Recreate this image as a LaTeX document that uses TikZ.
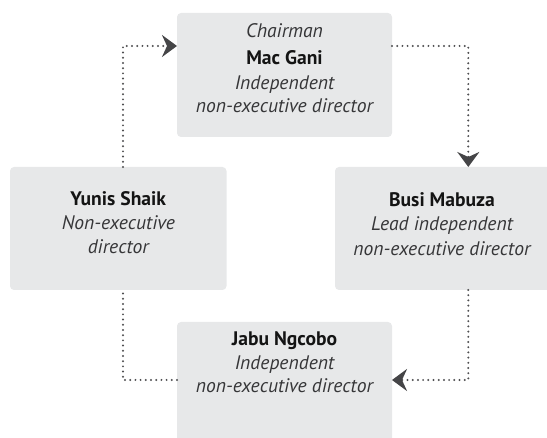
\documentclass[tikz,border=0pt]{standalone}
\usepackage{fontspec}
\setmainfont{PT Sans}
\usetikzlibrary{arrows.meta}
\definecolor{boxgray}{HTML}{E7E8E9}
\definecolor{linegray}{HTML}{4E4E50}
\definecolor{tipgray}{HTML}{454547}
\definecolor{namecol}{HTML}{141414}
\definecolor{rolecol}{HTML}{363638}
\tikzset{
  board/.style={fill=boxgray, draw=none, rounded corners=4pt},
  nm/.style={font=\fontsize{19.6}{22}\selectfont\bfseries, text=namecol, anchor=base, inner sep=0pt},
  rl/.style={font=\fontsize{19.6}{22}\selectfont\itshape, text=rolecol, anchor=base, inner sep=0pt},
  flow/.style={draw=linegray, line width=2.2pt, line cap=round, dash pattern=on 0pt off 5.2pt},
  tipped/.style={flow, -{Stealth[length=15pt, width=22pt, inset=5pt, color=tipgray]}}
}
\begin{document}
\begin{tikzpicture}[x=1pt, y=-1pt]
\useasboundingbox (0,0) rectangle (547,438);
% boxes
\path[board] (177,13) rectangle (392,137) node[midway, inner sep=0pt] (mac) {};
\path[board] (10,167) rectangle (226.5,290) node[midway, inner sep=0pt] (yunis) {};
\path[board] (335,167) rectangle (560,290) node[midway, inner sep=0pt] (busi) {};
\path[board] (177,322) rectangle (392,450) node[midway, inner sep=0pt] (jabu) {};
% anchor coordinates on box edges
\coordinate (macW) at (177,46);
\coordinate (macE) at (392,46);
\coordinate (yunisN) at (123,167);
\coordinate (yunisS) at (123,290);
\coordinate (busiN) at (468.3,167);
\coordinate (busiS) at (468.3,290);
\coordinate (jabuW) at (177,380);
\coordinate (jabuE) at (392,380);
% texts
\node[rl] (macrole) at (284.5,37.3) {Chairman};
\node[nm] (macname) at (284.5,65) {Mac Gani};
\node[rl] (macd1) at (284.5,89.3) {Independent};
\node[rl] (macd2) at (284.5,112.8) {non-executive director};
\node[nm] (yunisname) at (118.3,205.5) {Yunis Shaik};
\node[rl] (yunisd1) at (118.3,230) {Non-executive};
\node[rl] (yunisd2) at (118.3,253.2) {director};
\node[nm] (businame) at (442,207) {Busi Mabuza};
\node[rl] (busid1) at (442,231) {Lead independent};
\node[rl] (busid2) at (442,255.5) {non-executive director};
\node[nm] (jabuname) at (284.5,345.7) {Jabu Ngcobo};
\node[rl] (jabud1) at (284.5,369.2) {Independent};
\node[rl] (jabud2) at (284.5,393) {non-executive director};
% connectors
\draw[tipped] (yunisN) |- (macW);
\draw[tipped] (macE) -| (busiN);
\draw[tipped] (busiS) |- (jabuE);
\draw[flow] (jabuW) -| (yunisS);
\end{tikzpicture}
\end{document}
